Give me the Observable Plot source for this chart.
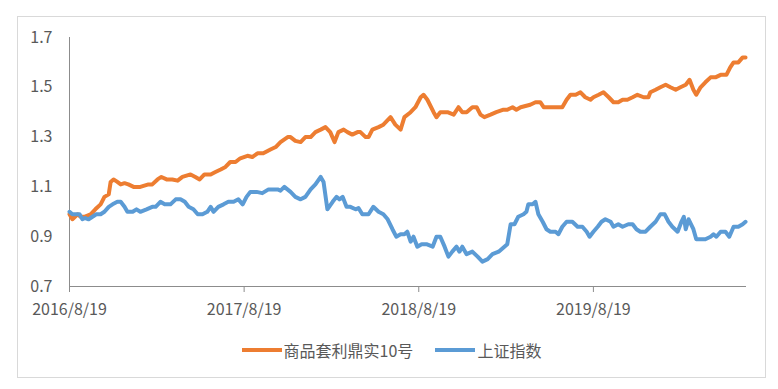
<!DOCTYPE html>
<html>
<head>
<meta charset="utf-8">
<script src="https://cdn.jsdelivr.net/npm/d3@7"></script>
<script src="https://cdn.jsdelivr.net/npm/@observablehq/plot@0.6"></script>
<style>
  html, body { margin: 0; padding: 0; background: #fff; }
  body { width: 778px; height: 389px; position: relative; font-family: "Noto Sans CJK SC", "Noto Sans", sans-serif; }
  #frame { position: absolute; left: 17px; top: 16px; width: 747px; height: 360px; border: 1px solid #d9d9d9; }
  #legend { display: flex; justify-content: center; align-items: center; gap: 22px; margin-top: 22px; height: 22px; font-size: 16px; color: #595959; }
  .item { display: flex; align-items: center; }
  .swatch { width: 40px; height: 4px; margin-right: 2px; }
</style>
</head>
<body>
<div id="frame"><div id="chart"></div><div id="legend"></div></div>
<script>
const seriesNames = ["商品套利鼎实10号", "上证指数"];
const seriesColors = ["#ED7D31", "#5B9BD5"];
const xTickLabels = ["2016-08-19", "2017-08-19", "2018-08-19", "2019-08-19"];
const yTickValues = [0.7, 0.9, 1.1, 1.3, 1.5, 1.7];
const xDomain = ["2016-08-19", "2020-07-04"];

const orangeDates = [
"2016-08-19","2016-08-25","2016-09-05","2016-09-11","2016-09-19","2016-10-02","2016-10-12","2016-10-23","2016-10-31","2016-11-09",
"2016-11-13","2016-11-19","2016-11-27","2016-12-04","2016-12-12","2016-12-20","2016-12-31","2017-01-14","2017-01-31","2017-02-08",
"2017-02-19","2017-02-27","2017-03-10","2017-03-22","2017-04-02","2017-04-12","2017-04-29","2017-05-09","2017-05-18","2017-05-28",
"2017-06-10","2017-06-20","2017-07-01","2017-07-11","2017-07-21","2017-08-01","2017-08-11","2017-08-26","2017-09-05","2017-09-16",
"2017-09-28","2017-10-13","2017-10-24","2017-11-03","2017-11-18","2017-11-24","2017-12-04","2017-12-15","2017-12-25","2018-01-05",
"2018-01-15","2018-01-26","2018-02-05","2018-02-15","2018-02-24","2018-03-04","2018-03-15","2018-03-23","2018-04-02","2018-04-13",
"2018-04-19","2018-04-30","2018-05-06","2018-05-14","2018-05-27","2018-06-06","2018-06-21","2018-07-01","2018-07-12","2018-07-20",
"2018-08-02","2018-08-12","2018-08-23","2018-08-29","2018-09-06","2018-09-19","2018-09-25","2018-10-03","2018-10-18","2018-10-31",
"2018-11-10","2018-11-18","2018-11-27","2018-12-09","2018-12-18","2018-12-26","2019-01-03","2019-01-16","2019-01-28","2019-02-12",
"2019-02-20","2019-03-03","2019-03-11","2019-03-20","2019-03-30","2019-04-09","2019-04-20","2019-04-30","2019-05-07","2019-05-17",
"2019-05-25","2019-06-03","2019-06-15","2019-06-24","2019-07-02","2019-07-13","2019-07-23","2019-08-02","2019-08-13","2019-08-19",
"2019-08-30","2019-09-09","2019-09-20","2019-09-30","2019-10-10","2019-10-19","2019-10-29","2019-11-09","2019-11-19","2019-12-02",
"2019-12-12","2019-12-16","2019-12-27","2020-01-06","2020-01-17","2020-01-27","2020-02-07","2020-02-17","2020-02-28","2020-03-07",
"2020-03-15","2020-03-21","2020-03-30","2020-04-09","2020-04-20","2020-04-30","2020-05-11","2020-05-23","2020-05-31","2020-06-07",
"2020-06-17","2020-06-26","2020-07-02"];
const orangeValues = [
0.99,0.97,0.99,0.98,0.98,0.99,1.01,1.03,1.06,1.07,
1.12,1.13,1.12,1.11,1.115,1.11,1.10,1.10,1.11,1.11,
1.13,1.14,1.13,1.13,1.125,1.14,1.15,1.14,1.13,1.15,
1.15,1.16,1.17,1.18,1.20,1.20,1.215,1.225,1.22,1.235,
1.235,1.25,1.26,1.28,1.30,1.30,1.285,1.28,1.30,1.30,
1.32,1.33,1.34,1.32,1.28,1.32,1.33,1.32,1.31,1.32,
1.32,1.30,1.30,1.33,1.34,1.35,1.38,1.35,1.33,1.38,
1.40,1.42,1.46,1.47,1.45,1.40,1.38,1.40,1.40,1.39,
1.42,1.40,1.40,1.42,1.42,1.39,1.38,1.39,1.40,1.41,
1.41,1.42,1.41,1.42,1.425,1.43,1.44,1.44,1.42,1.42,
1.42,1.42,1.42,1.45,1.47,1.47,1.48,1.46,1.45,1.46,
1.47,1.48,1.46,1.44,1.44,1.45,1.45,1.46,1.47,1.46,
1.46,1.48,1.49,1.50,1.51,1.50,1.49,1.50,1.51,1.53,
1.49,1.47,1.50,1.52,1.54,1.54,1.55,1.55,1.58,1.60,
1.60,1.62,1.62];

const blueDates = [
"2016-08-19","2016-08-25","2016-09-03","2016-09-09","2016-09-15","2016-09-21","2016-09-28","2016-10-06","2016-10-14","2016-10-23",
"2016-10-31","2016-11-09","2016-11-17","2016-11-27","2016-12-04","2016-12-12","2016-12-18","2016-12-29","2017-01-06","2017-01-14",
"2017-01-27","2017-02-08","2017-02-15","2017-02-25","2017-03-06","2017-03-18","2017-03-29","2017-04-08","2017-04-17","2017-04-25",
"2017-05-05","2017-05-14","2017-05-24","2017-06-03","2017-06-10","2017-06-16","2017-06-26","2017-07-07","2017-07-17","2017-07-28",
"2017-08-07","2017-08-16","2017-08-24","2017-09-01","2017-09-14","2017-09-26","2017-10-09","2017-10-17","2017-10-28","2017-11-03",
"2017-11-11","2017-11-24","2017-12-04","2017-12-15","2017-12-25","2018-01-05","2018-01-15","2018-01-26","2018-02-01","2018-02-09",
"2018-02-20","2018-02-28","2018-03-06","2018-03-13","2018-03-21","2018-03-29","2018-04-09","2018-04-15","2018-04-23","2018-05-06",
"2018-05-16","2018-05-27","2018-06-06","2018-06-15","2018-06-25","2018-07-03","2018-07-12","2018-07-20","2018-07-26","2018-08-02",
"2018-08-08","2018-08-16","2018-08-25","2018-09-04","2018-09-17","2018-09-25","2018-10-03","2018-10-12","2018-10-20","2018-10-28",
"2018-11-06","2018-11-12","2018-11-18","2018-11-27","2018-12-09","2018-12-20","2018-12-30","2019-01-10","2019-01-20","2019-02-02",
"2019-02-14","2019-02-20","2019-02-27","2019-03-07","2019-03-15","2019-03-26","2019-04-01","2019-04-05","2019-04-14","2019-04-20",
"2019-04-26","2019-05-05","2019-05-13","2019-05-21","2019-06-01","2019-06-07","2019-06-15","2019-06-24","2019-07-06","2019-07-17",
"2019-07-27","2019-08-05","2019-08-11","2019-08-19","2019-08-28","2019-09-05","2019-09-13","2019-09-24","2019-09-30","2019-10-10",
"2019-10-19","2019-10-31","2019-11-09","2019-11-17","2019-11-25","2019-12-06","2019-12-16","2019-12-27","2020-01-06","2020-01-15",
"2020-01-23","2020-01-31","2020-02-11","2020-02-19","2020-02-24","2020-02-28","2020-03-05","2020-03-15","2020-03-21","2020-03-30",
"2020-04-09","2020-04-20","2020-04-26","2020-05-02","2020-05-11","2020-05-21","2020-05-29","2020-06-07","2020-06-17","2020-06-26",
"2020-07-02"];
const blueValues = [
1.00,0.99,0.99,0.99,0.97,0.975,0.97,0.98,0.99,0.99,
1.00,1.02,1.03,1.04,1.04,1.02,1.00,1.00,1.01,1.00,
1.01,1.02,1.02,1.04,1.03,1.03,1.05,1.05,1.04,1.02,
1.01,0.99,0.99,1.00,1.02,1.00,1.02,1.03,1.04,1.04,
1.05,1.03,1.06,1.08,1.08,1.075,1.09,1.09,1.09,1.085,
1.10,1.08,1.06,1.05,1.06,1.09,1.11,1.14,1.12,1.01,
1.04,1.06,1.05,1.06,1.02,1.02,1.01,1.015,0.99,0.99,
1.02,1.00,0.99,0.97,0.93,0.90,0.91,0.91,0.92,0.88,
0.90,0.86,0.87,0.87,0.86,0.90,0.90,0.86,0.82,0.84,
0.86,0.84,0.86,0.83,0.84,0.82,0.80,0.81,0.83,0.84,
0.86,0.87,0.95,0.95,0.98,0.99,1.00,1.03,1.03,1.04,
0.99,0.96,0.93,0.92,0.92,0.91,0.94,0.96,0.96,0.94,
0.94,0.92,0.90,0.92,0.94,0.96,0.97,0.96,0.94,0.95,
0.94,0.95,0.95,0.93,0.92,0.92,0.94,0.96,0.99,0.99,
0.96,0.94,0.92,0.96,0.98,0.93,0.97,0.93,0.89,0.89,
0.89,0.90,0.91,0.90,0.92,0.92,0.90,0.94,0.94,0.95,
0.96];

const parse = d3.utcParse("%Y-%m-%d");
const rows = [
  ...orangeDates.map((d, i) => ({date: parse(d), value: orangeValues[i], series: seriesNames[0]})),
  ...blueDates.map((d, i) => ({date: parse(d), value: blueValues[i], series: seriesNames[1]}))
];
const xTicks = xTickLabels.map(parse);
const fmtDate = d => `${d.getUTCFullYear()}/${d.getUTCMonth() + 1}/${d.getUTCDate()}`;
const axisColor = "#8c8c8c";

const chart = Plot.plot({
  width: 747,
  height: 300,
  marginLeft: 51,
  marginRight: 19,
  marginTop: 20,
  marginBottom: 31,
  style: {fontFamily: '"Noto Sans CJK SC", "Noto Sans", sans-serif', fontSize: "16px", color: "#595959", background: "#fff", overflow: "visible"},
  x: {type: "utc", domain: xDomain.map(parse)},
  y: {domain: [0.7, 1.7]},
  color: {domain: seriesNames, range: seriesColors},
  marks: [
    Plot.axisY({ticks: yTickValues, tickFormat: d3.format(".1f"), tickSize: 0, tickPadding: 17, label: null, fill: "#595959", fontSize: 16}),
    Plot.axisX({ticks: xTicks, tickFormat: fmtDate, tickSize: 6, tickPadding: 11, label: null, stroke: axisColor, fill: "#595959", fontSize: 16}),
    Plot.ruleY([0.7], {stroke: axisColor, strokeWidth: 1}),
    Plot.ruleX([parse(xDomain[0])], {y1: 0.7, y2: 1.7, stroke: axisColor, strokeWidth: 1}),
    Plot.line(rows, {x: "date", y: "value", z: "series", stroke: "series", strokeWidth: 4, strokeLinejoin: "round", strokeLinecap: "round"})
  ]
});
document.getElementById("chart").appendChild(chart);

const legend = document.getElementById("legend");
seriesNames.forEach((name, i) => {
  const item = document.createElement("div");
  item.className = "item";
  const sw = document.createElement("span");
  sw.className = "swatch";
  sw.style.background = seriesColors[i];
  const label = document.createElement("span");
  label.textContent = name;
  item.appendChild(sw);
  item.appendChild(label);
  legend.appendChild(item);
});
</script>
</body>
</html>
